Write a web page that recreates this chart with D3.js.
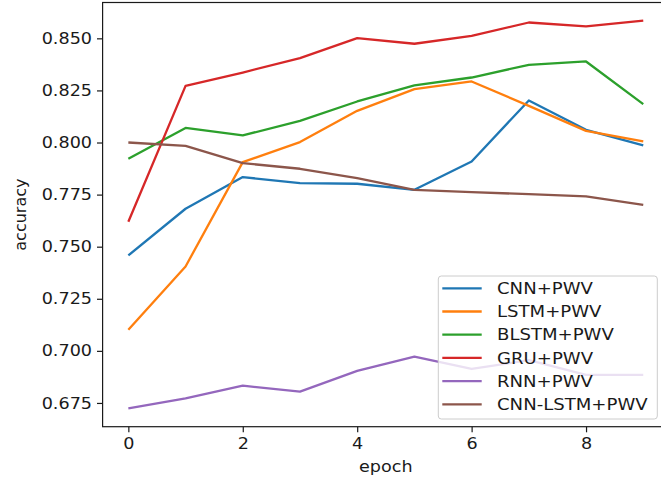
<!DOCTYPE html>
<html>
<head>
	<title>Accuracy per epoch</title>
	<script type="text/javascript" src="https://cdnjs.cloudflare.com/ajax/libs/d3/7.8.5/d3.min.js"></script>
	<style>
		body { margin: 0; background: #fff; }
		text { font-family: "DejaVu Sans", sans-serif; fill: #1a1a1a; }
	</style>
</head>
<body>
<svg id="chart" width="661" height="481"></svg>
<script type="text/javascript">
	// values
	var epochs = [0, 1, 2, 3, 4, 5, 6, 7, 8, 9];
	var cnnPwv     = [0.7458, 0.7682, 0.7834, 0.7805, 0.7802, 0.7773, 0.7909, 0.8202, 0.8061, 0.7986];
	var lstmPwv    = [0.7101, 0.7405, 0.7906, 0.8002, 0.8152, 0.8256, 0.8293, 0.8176, 0.8056, 0.8005];
	var blstmPwv   = [0.7922, 0.8070, 0.8034, 0.8104, 0.8197, 0.8274, 0.8312, 0.8373, 0.8389, 0.8184];
	var gruPwv     = [0.7620, 0.8272, 0.8336, 0.8405, 0.8501, 0.8474, 0.8512, 0.8576, 0.8557, 0.8585];
	var rnnPwv     = [0.6724, 0.6772, 0.6833, 0.6804, 0.6904, 0.6972, 0.6913, 0.6955, 0.6885, 0.6885];
	var cnnLstmPwv = [0.8000, 0.7984, 0.7901, 0.7874, 0.7829, 0.7773, 0.7762, 0.7752, 0.7741, 0.7701];

	var seriesNames = ["CNN+PWV", "LSTM+PWV", "BLSTM+PWV", "GRU+PWV", "RNN+PWV", "CNN-LSTM+PWV"];
	var seriesValues = [cnnPwv, lstmPwv, blstmPwv, gruPwv, rnnPwv, cnnLstmPwv];
	var colors = ["#1f77b4", "#ff7f0e", "#2ca02c", "#d62728", "#9467bd", "#8c564b"];

	var xTicks = [0, 2, 4, 6, 8];
	var yTicks = [0.675, 0.700, 0.725, 0.750, 0.775, 0.800, 0.825, 0.850];

	var svg = d3.select("#chart");

	// plot box (right spine falls just outside the picture)
	var plotL = 102.6, plotR = 669, plotT = 2.5, plotB = 426.7;
	var fontSize = 16;
	var stretch = 1.1; // the picture's text looks a bit wide

	var x = d3.scaleLinear().domain([-0.45, 9.45]).range([plotL, plotR]);
	var y = d3.scaleLinear().domain([0.6636, 0.8672]).range([plotB, plotT]);

	// lines
	var line = d3.line()
		.x(function(d, i) { return x(epochs[i]); })
		.y(function(d) { return y(d); });

	seriesValues.forEach(function(vals, k) {
		svg.append("path")
			.attr("d", line(vals))
			.attr("fill", "none")
			.attr("stroke", colors[k])
			.attr("stroke-width", 2.3)
			.attr("stroke-linejoin", "round");
	});

	// axes
	var xAxis = svg.append("g")
		.attr("transform", "translate(0," + plotB + ")")
		.call(d3.axisBottom(x).tickValues(xTicks).tickFormat(d3.format("d")).tickSize(5.6).tickPadding(5));
	var yAxis = svg.append("g")
		.attr("transform", "translate(" + plotL + ",0)")
		.call(d3.axisLeft(y).tickValues(yTicks).tickFormat(d3.format(".3f")).tickSize(5.6).tickPadding(5));

	[xAxis, yAxis].forEach(function(g) {
		g.select(".domain").remove();
		g.selectAll(".tick line").attr("stroke", "#1a1a1a").attr("stroke-width", 1.2);
		g.selectAll(".tick text").style("font-size", fontSize + "px").attr("fill", "#1a1a1a");
	});

	// widen tick labels a little around their anchor
	xAxis.selectAll(".tick text").attr("transform", "scale(" + stretch + ",1)");
	yAxis.selectAll(".tick text").each(function() {
		var t = d3.select(this);
		var tx = +t.attr("x");
		t.attr("x", tx / stretch).attr("transform", "scale(" + stretch + ",1)");
	});

	// spines
	svg.append("rect")
		.attr("x", plotL).attr("y", plotT)
		.attr("width", plotR - plotL).attr("height", plotB - plotT)
		.attr("fill", "none")
		.attr("stroke", "#1a1a1a")
		.attr("stroke-width", 1.2);

	// axis labels
	svg.append("text")
		.attr("transform", "translate(" + ((plotL + plotR) / 2) + ",472) scale(" + stretch + ",1)")
		.attr("text-anchor", "middle")
		.style("font-size", fontSize + "px")
		.text("epoch");

	svg.append("text")
		.attr("transform", "translate(26," + ((plotT + plotB) / 2) + ") rotate(-90)")
		.attr("text-anchor", "middle")
		.style("font-size", fontSize + "px")
		.text("accuracy");

	// legend
	var legend = svg.append("g");
	legend.append("rect")
		.attr("x", 438.3).attr("y", 276)
		.attr("width", 219).attr("height", 143)
		.attr("rx", 3)
		.attr("fill", "#fff").attr("fill-opacity", 0.8)
		.attr("stroke", "#cccccc").attr("stroke-width", 1);

	seriesNames.forEach(function(name, k) {
		var cy = 288.3 + k * 23.2;
		legend.append("line")
			.attr("x1", 442.3).attr("x2", 481.7)
			.attr("y1", cy).attr("y2", cy)
			.attr("stroke", colors[k])
			.attr("stroke-width", 2.3);
		legend.append("text")
			.attr("transform", "translate(497," + cy + ") scale(" + (stretch + 0.03) + ",1)")
			.attr("dy", "0.36em")
			.style("font-size", fontSize + "px")
			.text(name);
	});
</script>
</body>
</html>
